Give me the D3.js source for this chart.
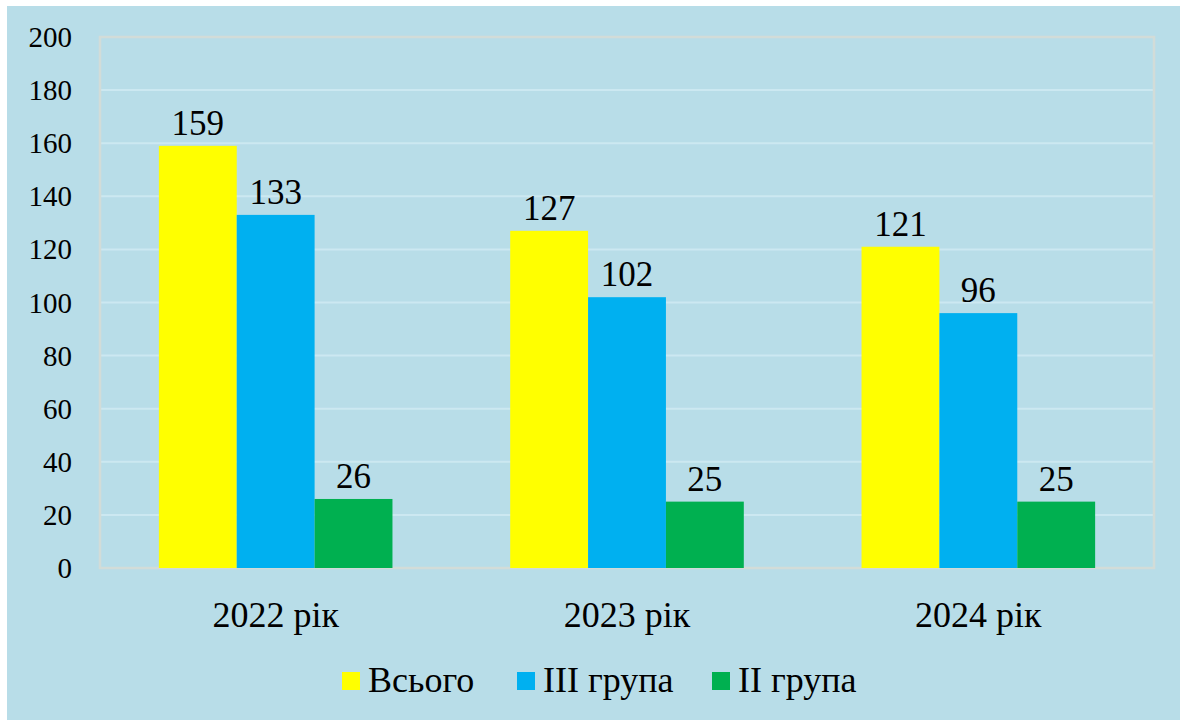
<!DOCTYPE html>
<html><head><meta charset="utf-8"><script src="https://cdn.jsdelivr.net/npm/d3@7/dist/d3.min.js"></script></head>
<body style="margin:0">
<svg id="chart" width="1184" height="720"></svg>
<script>
const categories = ["2022 рік", "2023 рік", "2024 рік"];
const seriesNames = ["Всього", "III група", "II група"];
const seriesColors = ["#ffff00", "#00b0f0", "#00b050"];
const vsogo = [159, 127, 121];
const grupa3 = [133, 102, 96];
const grupa2 = [26, 25, 25];
const yTicks = [0, 20, 40, 60, 80, 100, 120, 140, 160, 180, 200];

const seriesValues = [vsogo, grupa3, grupa2];

const svg = d3.select("#chart");

svg.append("rect").attr("x", 7).attr("y", 6).attr("width", 1173).attr("height", 714)
  .attr("fill", "#b8dde8");

const plot = { left: 100, right: 1154, top: 37, bottom: 568 };

const x0 = d3.scaleBand().domain(categories).range([plot.left, plot.right]).paddingInner(0).paddingOuter(0);
const x1 = d3.scaleBand().domain(seriesNames).range([0, x0.bandwidth()]).paddingInner(0).paddingOuter(0.756);
const y = d3.scaleLinear().domain([0, 200]).range([plot.bottom, plot.top]);

svg.append("g").selectAll("line").data(yTicks).join("line")
  .attr("x1", plot.left).attr("x2", plot.right)
  .attr("y1", d => y(d)).attr("y2", d => y(d))
  .attr("stroke", "#cce8f1").attr("stroke-width", 2);

svg.append("rect").attr("x", plot.left).attr("y", plot.top)
  .attr("width", plot.right - plot.left).attr("height", plot.bottom - plot.top)
  .attr("fill", "none").attr("stroke", "#d2dcd8").attr("stroke-width", 2.5);

// y tick labels, drawn from the scale
svg.append("g").selectAll("text").data(yTicks).join("text")
  .attr("x", 72).attr("y", d => y(d) + 10)
  .attr("text-anchor", "end")
  .style("font-family", d => `"Times New Roman"`).style("font-size", "29px")
  .text(d => d);

const cellData = (c, ci) => seriesNames.map((s, si) => ({ s, v: seriesValues[si][ci], si, c }));

const groups = svg.append("g").selectAll("g").data(categories).join("g")
  .attr("transform", d => `translate(${x0(d)},0)`);

groups.selectAll("rect").data(cellData).join("rect")
  .attr("x", d => x1(d.s)).attr("width", x1.bandwidth())
  .attr("y", d => y(d.v)).attr("height", d => y(0) - y(d.v))
  .attr("fill", d => seriesColors[d.si]);

groups.selectAll("text").data(cellData).join("text")
  .attr("x", d => x1(d.s) + x1.bandwidth() / 2)
  .attr("y", d => y(d.v) - 11)
  .attr("text-anchor", "middle")
  .style("font-family", d => `"Times New Roman"`).style("font-size", "35px")
  .text(d => d.v);

// category labels
svg.append("g").selectAll("text").data(categories).join("text")
  .attr("x", d => x0(d) + x0.bandwidth() / 2)
  .attr("y", plot.bottom + 59)
  .attr("text-anchor", "middle")
  .style("font-family", d => `"Times New Roman"`).style("font-size", "36px")
  .text(d => d);

// legend
const legendX = [342, 517, 712];
const leg = svg.append("g").selectAll("g").data(seriesNames).join("g")
  .attr("transform", (d, i) => `translate(${legendX[i]},0)`);
leg.append("rect").attr("x", 0).attr("y", 672).attr("width", 18).attr("height", 18)
  .attr("fill", (d, i) => seriesColors[i]);
leg.append("text").attr("x", 26).attr("y", 692)
  .style("font-family", d => `"Times New Roman"`).style("font-size", "36px")
  .text(d => d);
</script></body></html>
